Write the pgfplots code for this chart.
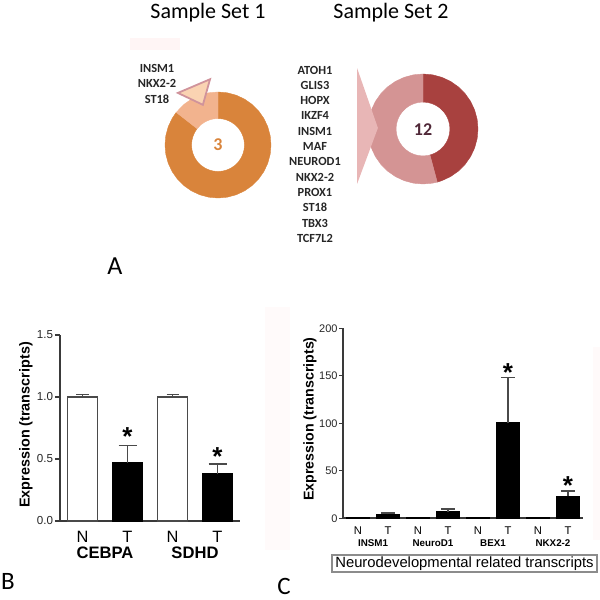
\documentclass[border=0pt]{standalone}
\usepackage{pgfplots}
\pgfplotsset{compat=1.18}
\usepgfplotslibrary{polar}
\usepackage{fontspec}
\setmainfont{Liberation Sans}
\newfontfamily\calfont{Carlito}
\definecolor{orangeA}{HTML}{D9843B}
\definecolor{lightorange}{HTML}{F2B38E}
\definecolor{peach}{HTML}{FAD3B2}
\definecolor{trioutline}{HTML}{D0939B}
\definecolor{darkred}{HTML}{A8413F}
\definecolor{lightred}{HTML}{D49494}
\definecolor{paleRed}{HTML}{E8B6B6}
\definecolor{numtwelve}{HTML}{502838}
\definecolor{axgray}{HTML}{3A3A3A}
\definecolor{bargray}{HTML}{4A4A4A}
\begin{document}
\begin{tikzpicture}
\path[use as bounding box] (0,0) rectangle (300pt,300pt);
% faint artefacts
\fill[red!4] (65pt,275pt) rectangle (90pt,281pt);
\fill[red!2] (132.5pt,25pt) rectangle (145pt,146.5pt);
\fill[red!2] (296.5pt,30pt) rectangle (300pt,126.5pt);

% titles
\node[font=\calfont\fontsize{11}{13}\selectfont] at (104pt,293.5pt) {Sample Set 1};
\node[font=\calfont\fontsize{11}{13}\selectfont] at (195.5pt,293.5pt) {Sample Set 2};

% gene lists
\foreach \g [count=\i from 0] in {INSM1,NKX2-2,ST18}
  \node[font=\calfont\bfseries\fontsize{6.2}{7}\selectfont, text=black!85] at (78.5pt,{266pt-\i*7.8pt}) {\g};
\foreach \g [count=\i from 0] in {ATOH1,GLIS3,HOPX,IKZF4,INSM1,MAF,NEUROD1,NKX2-2,PROX1,ST18,TBX3,TCF7L2}
  \node[font=\calfont\bfseries\fontsize{6.2}{7}\selectfont, text=black!85] at (157.5pt,{265pt-\i*7.65pt}) {\g};

% Donut 1
\begin{polaraxis}[at={(109pt,227.5pt)}, anchor=center, scale only axis, width=53pt, height=53pt,
  xmin=0, xmax=360, ymin=0, ymax=1, hide axis, clip=false]
\addplot[fill=orangeA, draw=orangeA, line width=0.2pt, mark=none] coordinates {
(142,1)(150,1)(160,1)(170,1)(180,1)(190,1)(200,1)(210,1)(220,1)(230,1)(240,1)(250,1)(260,1)(270,1)(280,1)(290,1)(300,1)(310,1)(320,1)(330,1)(340,1)(350,1)(360,1)(370,1)(380,1)(390,1)(400,1)(410,1)(420,1)(430,1)(440,1)(450,1)
(450,0.5)(440,0.5)(430,0.5)(420,0.5)(410,0.5)(400,0.5)(390,0.5)(380,0.5)(370,0.5)(360,0.5)(350,0.5)(340,0.5)(330,0.5)(320,0.5)(310,0.5)(300,0.5)(290,0.5)(280,0.5)(270,0.5)(260,0.5)(250,0.5)(240,0.5)(230,0.5)(220,0.5)(210,0.5)(200,0.5)(190,0.5)(180,0.5)(170,0.5)(160,0.5)(150,0.5)(142,0.5)} -- cycle;
\addplot[fill=lightorange, draw=lightorange, line width=0.2pt, mark=none] coordinates {
(90,1)(100,1)(110,1)(120,1)(130,1)(142,1)(142,0.5)(130,0.5)(120,0.5)(110,0.5)(100,0.5)(90,0.5)} -- cycle;
\addplot[fill=peach, draw=trioutline, line width=0.9pt, mark=none] coordinates {
(127.6,1.24)(96.9,1.25)(110.6,0.81)} -- cycle;
\end{polaraxis}
\node[font=\calfont\bfseries\fontsize{9}{10}\selectfont, text=orangeA] at (109pt,227.5pt) {3};

% Donut 2
\begin{polaraxis}[at={(211.5pt,235.5pt)}, anchor=center, scale only axis, width=55pt, height=55pt,
  xmin=0, xmax=360, ymin=0, ymax=1, hide axis, clip=false]
\addplot[fill=darkred, draw=darkred, line width=0.2pt, mark=none] coordinates {
(-75,1)(-70,1)(-60,1)(-50,1)(-40,1)(-30,1)(-20,1)(-10,1)(0,1)(10,1)(20,1)(30,1)(40,1)(50,1)(60,1)(70,1)(80,1)(90,1)
(90,0.49)(80,0.49)(70,0.49)(60,0.49)(50,0.49)(40,0.49)(30,0.49)(20,0.49)(10,0.49)(0,0.49)(-10,0.49)(-20,0.49)(-30,0.49)(-40,0.49)(-50,0.49)(-60,0.49)(-70,0.49)(-75,0.49)} -- cycle;
\addplot[fill=lightred, draw=lightred, line width=0.2pt, mark=none] coordinates {
(90,1)(100,1)(110,1)(120,1)(130,1)(140,1)(150,1)(160,1)(170,1)(180,1)(190,1)(200,1)(210,1)(220,1)(230,1)(240,1)(250,1)(260,1)(270,1)(280,1)(285,1)
(285,0.49)(280,0.49)(270,0.49)(260,0.49)(250,0.49)(240,0.49)(230,0.49)(220,0.49)(210,0.49)(200,0.49)(190,0.49)(180,0.49)(170,0.49)(160,0.49)(150,0.49)(140,0.49)(130,0.49)(120,0.49)(110,0.49)(100,0.49)(90,0.49)} -- cycle;
\addplot[fill=paleRed, draw=none, mark=none] coordinates {
(137.3,1.63)(178.7,0.82)(219.8,1.56)} -- cycle;
\end{polaraxis}
\node[font=\calfont\bfseries\fontsize{9}{10}\selectfont, text=numtwelve] at (211.5pt,235pt) {12};

% panel letters
\node[font=\calfont\fontsize{13}{14}\selectfont] at (57.5pt,166.75pt) {A};
\node[font=\calfont\fontsize{12.5}{14}\selectfont] at (4pt,9.5pt) {B};
\node[font=\calfont\fontsize{12.5}{14}\selectfont] at (142pt,7pt) {C};

% Panel B
\begin{axis}[at={(30pt,39.5pt)}, anchor=south west, scale only axis, width=90pt, height=93pt,
  xmin=-0.5, xmax=3.5, ymin=0, ymax=1.5,
  axis x line=bottom, axis y line=left, axis line style={-, draw=axgray, line width=0.8pt},
  ytick={0,0.5,1,1.5}, yticklabels={0.0,0.5,1.0,1.5},
  xtick={0,1,2,3}, xticklabels={N,T,N,T},
  tick align=outside, major tick length=2.5pt,
  y tick style={draw=axgray, line width=0.7pt}, x tick style={draw=none},
  yticklabel style={font=\fontsize{5.8}{6}\selectfont, text=black!85, inner sep=0.8pt},
  xticklabel style={font=\fontsize{8.2}{9}\selectfont, inner sep=0pt, yshift=-2.6pt},
  clip=false]
\addplot[ybar, bar width=15pt, bar shift=0pt, fill=white, draw=bargray, line width=0.8pt,
  error bars/.cd, y dir=plus, y explicit, error mark=|, error bar style={line width=0.8pt, draw=bargray},
  error mark options={mark size=3pt, line width=0.8pt, draw=bargray}]
  coordinates {(0,1.0) +- (0,0.02) (2,1.0) +- (0,0.02)};
\addplot[ybar, bar width=15pt, bar shift=0pt, fill=black, draw=black, line width=0.8pt,
  error bars/.cd, y dir=plus, y explicit, error mark=|, error bar style={line width=0.8pt, draw=bargray},
  error mark options={mark size=4.5pt, line width=0.8pt, draw=bargray}]
  coordinates {(1,0.47) +- (0,0.14) (3,0.377) +- (0,0.083)};
\node[font=\bfseries\fontsize{13}{13}\selectfont, inner sep=0pt, yshift=-2.7pt] at (axis cs:1,0.726) {*};
\node[font=\bfseries\fontsize{13}{13}\selectfont, inner sep=0pt, yshift=-2.7pt] at (axis cs:3,0.567) {*};
\node[font=\bfseries\fontsize{8.3}{9}\selectfont, yshift=-16pt] at (axis cs:0.5,0) {CEBPA};
\node[font=\bfseries\fontsize{8.3}{9}\selectfont, yshift=-16pt] at (axis cs:2.5,0) {SDHD};
\end{axis}
\node[font=\bfseries\fontsize{7.2}{8}\selectfont, rotate=90] at (13pt,87.5pt) {Expression (transcripts)};

% Panel C
\begin{axis}[at={(171.5pt,40.85pt)}, anchor=south west, scale only axis, width=120pt, height=95pt,
  xmin=-0.5, xmax=7.5, ymin=0, ymax=200,
  axis x line=bottom, axis y line=left, axis line style={-, draw=axgray, line width=0.8pt},
  ytick={0,50,100,150,200}, yticklabels={0,50,100,150,200},
  xtick={0,1,2,3,4,5,6,7}, xticklabels={N,T,N,T,N,T,N,T},
  tick align=outside, major tick length=2pt,
  y tick style={draw=axgray, line width=0.7pt}, x tick style={draw=none},
  yticklabel style={font=\fontsize{5.5}{6}\selectfont, text=black!85, inner sep=0.5pt},
  xticklabel style={font=\fontsize{5.6}{6}\selectfont, inner sep=0pt, yshift=-2pt},
  clip=false]
\addplot[ybar, bar width=11pt, bar shift=0pt, fill=white, draw=black, line width=0.8pt]
  coordinates {(0,1) (2,1) (4,1) (6,1)};
\addplot[ybar, bar width=11pt, bar shift=0pt, fill=black, draw=black, line width=0.8pt,
  error bars/.cd, y dir=plus, y explicit, error mark=|, error bar style={line width=0.8pt, draw=bargray},
  error mark options={mark size=3.5pt, line width=0.8pt, draw=bargray}]
  coordinates {(1,4) +- (0,1.5) (3,6.5) +- (0,3) (5,100) +- (0,48) (7,23) +- (0,6)};
\node[font=\bfseries\fontsize{13}{13}\selectfont, inner sep=0pt, yshift=-2.7pt] at (axis cs:5,159) {*};
\node[font=\bfseries\fontsize{13}{13}\selectfont, inner sep=0pt, yshift=-2.7pt] at (axis cs:7,40) {*};
\node[font=\bfseries\fontsize{4.9}{6}\selectfont, yshift=-12.5pt] at (axis cs:0.5,0) {INSM1};
\node[font=\bfseries\fontsize{4.9}{6}\selectfont, yshift=-12.5pt] at (axis cs:2.5,0) {NeuroD1};
\node[font=\bfseries\fontsize{4.9}{6}\selectfont, yshift=-12.5pt] at (axis cs:4.5,0) {BEX1};
\node[font=\bfseries\fontsize{4.9}{6}\selectfont, yshift=-12.5pt] at (axis cs:6.5,0) {NKX2-2};
\end{axis}
\node[font=\bfseries\fontsize{7.1}{8}\selectfont, rotate=90] at (155pt,90.5pt) {Expression (transcripts)};
\node[draw=black!45, line width=0.6pt, fill=white, minimum width=132.5pt, minimum height=8.5pt, inner sep=0pt,
  font=\fontsize{7.4}{8}\selectfont] at (232.25pt,18.25pt) {Neurodevelopmental related transcripts};
\end{tikzpicture}
\end{document}
